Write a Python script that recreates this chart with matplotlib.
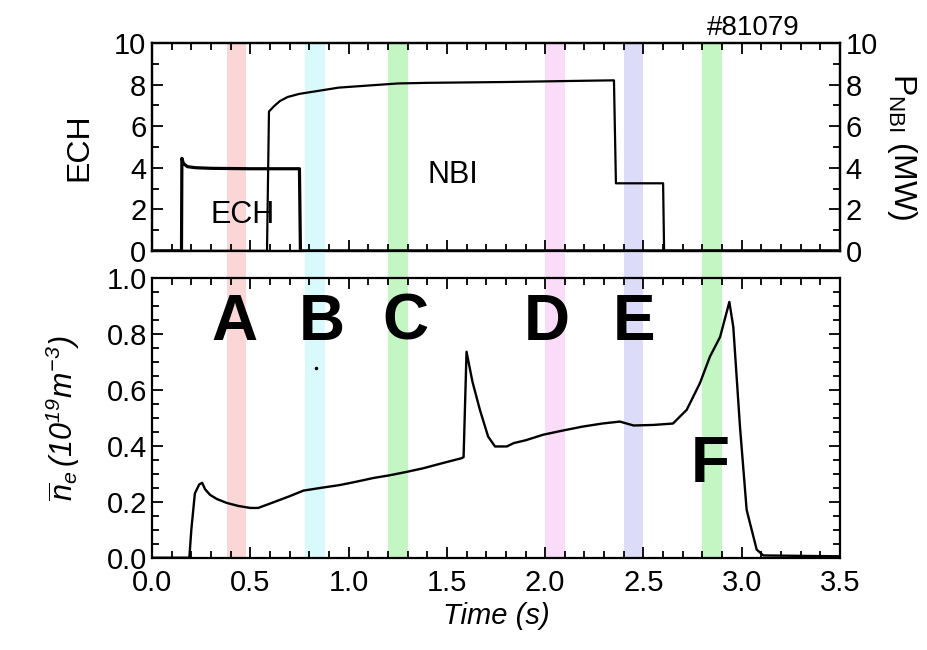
import matplotlib
matplotlib.use("Agg")
import matplotlib.pyplot as plt
from matplotlib.patches import Rectangle
from matplotlib.transforms import blended_transform_factory
from matplotlib.ticker import MultipleLocator, FormatStrFormatter

plt.rcParams['font.family'] = ['Liberation Sans', 'DejaVu Sans']
plt.rcParams['mathtext.fontset'] = 'custom'
# digits in math text follow the rm font, so make it italic; sf stays upright
plt.rcParams['mathtext.rm'] = 'Liberation Sans:italic'
plt.rcParams['mathtext.it'] = 'Liberation Sans:italic'
plt.rcParams['mathtext.sf'] = 'Liberation Sans'

# shot #81079 heating waveforms
ech_t = [0.0, 0.15, 0.152, 0.16, 0.18, 0.22, 0.3, 0.5, 0.75, 0.755, 3.5]
ech_p = [0.0, 0.0, 4.45, 4.2, 4.05, 4.0, 3.97, 3.95, 3.95, 0.0, 0.0]

nbi_t = [0.0, 0.585, 0.595, 0.62, 0.65, 0.69, 0.75, 0.85, 0.95, 1.1, 1.25, 1.4,
         1.6, 1.8, 2.0, 2.2, 2.35, 2.36, 2.6, 2.605, 3.5]
nbi_p = [0.0, 0.0, 6.7, 6.95, 7.2, 7.4, 7.55, 7.7, 7.85, 7.95, 8.05, 8.08,
         8.1, 8.12, 8.15, 8.18, 8.2, 3.25, 3.25, 0.0, 0.0]

# line-averaged density
ne_t = [0.0, 0.19, 0.2, 0.218, 0.24, 0.255, 0.27, 0.295, 0.33, 0.38, 0.44, 0.5,
        0.54, 0.617, 0.7, 0.77, 0.86, 0.956, 1.04, 1.125, 1.21, 1.295, 1.38,
        1.465, 1.575, 1.585, 1.60, 1.63, 1.668, 1.71, 1.745, 1.805, 1.84,
        1.9, 1.99, 2.09, 2.19, 2.29, 2.38, 2.45, 2.55, 2.65, 2.72, 2.787,
        2.838, 2.89, 2.937, 2.957, 2.991, 3.025, 3.076, 3.11, 3.5]
ne_v = [0.0, 0.0, 0.1, 0.23, 0.262, 0.268, 0.245, 0.225, 0.21, 0.196, 0.185,
        0.178, 0.178, 0.198, 0.22, 0.24, 0.25, 0.26, 0.272, 0.285, 0.295, 0.307,
        0.32, 0.336, 0.356, 0.36, 0.737, 0.63, 0.529, 0.433, 0.398, 0.398, 0.41,
        0.42, 0.44, 0.455, 0.469, 0.48, 0.487, 0.473, 0.475, 0.48, 0.529, 0.624,
        0.719, 0.79, 0.915, 0.826, 0.469, 0.171, 0.029, 0.008, 0.005]

# analysis time windows
win_lo = [0.38, 0.78, 1.2, 2.0, 2.4, 2.8]
win_hi = [0.48, 0.88, 1.3, 2.1, 2.5, 2.9]
win_col = ['#fad6d6', '#d8fafc', '#c4f6c4', '#fadcf8', '#dcdcf8', '#c4f6c4']
win_lab = ['A', 'B', 'C', 'D', 'E', 'F']
lab_x = [0.42, 0.865, 1.29, 2.01, 2.45, 2.84]
lab_y = [0.84, 0.84, 0.84, 0.84, 0.84, 0.33]

fig = plt.figure(figsize=(9.28, 6.5), dpi=100)
ax1 = fig.add_axes([0.1638, 0.614, 0.7414, 0.32])
ax2 = fig.add_axes([0.1638, 0.142, 0.7414, 0.430])
ax1r = ax1.twinx()

for lo, hi, c in zip(win_lo, win_hi, win_col):
    ax1.axvspan(lo, hi, color=c, lw=0, zorder=0)
    ax2.axvspan(lo, hi, color=c, lw=0, zorder=0)
    # fill the gap between the two panels
    tr = blended_transform_factory(ax2.transData, fig.transFigure)
    ax2.add_patch(Rectangle((lo, 0.572), hi - lo, 0.614 - 0.572, transform=tr,
                            color=c, lw=0, clip_on=False, zorder=0))

ax1.plot(ech_t, ech_p, color='k', lw=2.3)
ax1.plot(nbi_t, nbi_p, color='k', lw=1.6)
ax1.text(0.46, 1.75, 'ECH', fontsize=22, ha='center', va='center')
ax1.text(1.53, 3.65, 'NBI', fontsize=22, ha='center', va='center')
ax1.text(3.06, 1.04, '#81079', fontsize=20, ha='center', va='baseline',
         transform=blended_transform_factory(ax1.transData, ax1.transAxes))

ax2.plot(ne_t, ne_v, color='k', lw=1.7)
ax2.plot([0.835], [0.68], 'k.', ms=3)
for x, y, s in zip(lab_x, lab_y, win_lab):
    ax2.text(x, y, s, fontsize=46, fontweight='bold', ha='center', va='center')

for ax in (ax1, ax2, ax1r):
    ax.set_xlim(0, 3.5)
    ax.xaxis.set_major_locator(MultipleLocator(0.5))
    ax.xaxis.set_minor_locator(MultipleLocator(0.1))
    ax.tick_params(which='both', direction='in', width=1.3, labelsize=21)
    ax.tick_params(which='major', length=8)
    ax.tick_params(which='minor', length=5)
    for sp in ax.spines.values():
        sp.set_linewidth(1.6)

for ax in (ax1, ax2):
    ax.tick_params(which='both', top=True, right=(ax is ax2))

ax1.set_ylim(0, 10)
ax1.yaxis.set_major_locator(MultipleLocator(2))
ax1.yaxis.set_minor_locator(MultipleLocator(1))
ax1.tick_params(labelbottom=False, pad=4)
ax1.set_ylabel('ECH', fontsize=23, labelpad=14)

ax1r.set_ylim(0, 10)
ax1r.yaxis.set_major_locator(MultipleLocator(2))
ax1r.yaxis.set_minor_locator(MultipleLocator(1))
ax1r.tick_params(pad=4)
ax1r.set_ylabel(r'$\mathsf{P}_{\mathsf{NBI}}$ (MW)', fontsize=23, rotation=-90,
                ha='center', va='center')
ax1r.yaxis.set_label_coords(1.09, 0.5)

ax2.set_ylim(0, 1.0)
ax2.yaxis.set_major_locator(MultipleLocator(0.2))
ax2.yaxis.set_minor_locator(MultipleLocator(0.05))
ax2.yaxis.set_major_formatter(FormatStrFormatter('%.1f'))
ax2.xaxis.set_major_formatter(FormatStrFormatter('%.1f'))
ax2.tick_params(axis='x', pad=8)
ax2.set_xlabel('Time (s)', fontsize=21, fontstyle='italic', labelpad=4)
ax2.set_ylabel(r'$\overline{n}_e\,(10^{19}m^{-3})$', fontsize=22, labelpad=18)

fig.savefig('out.png', dpi=100)
